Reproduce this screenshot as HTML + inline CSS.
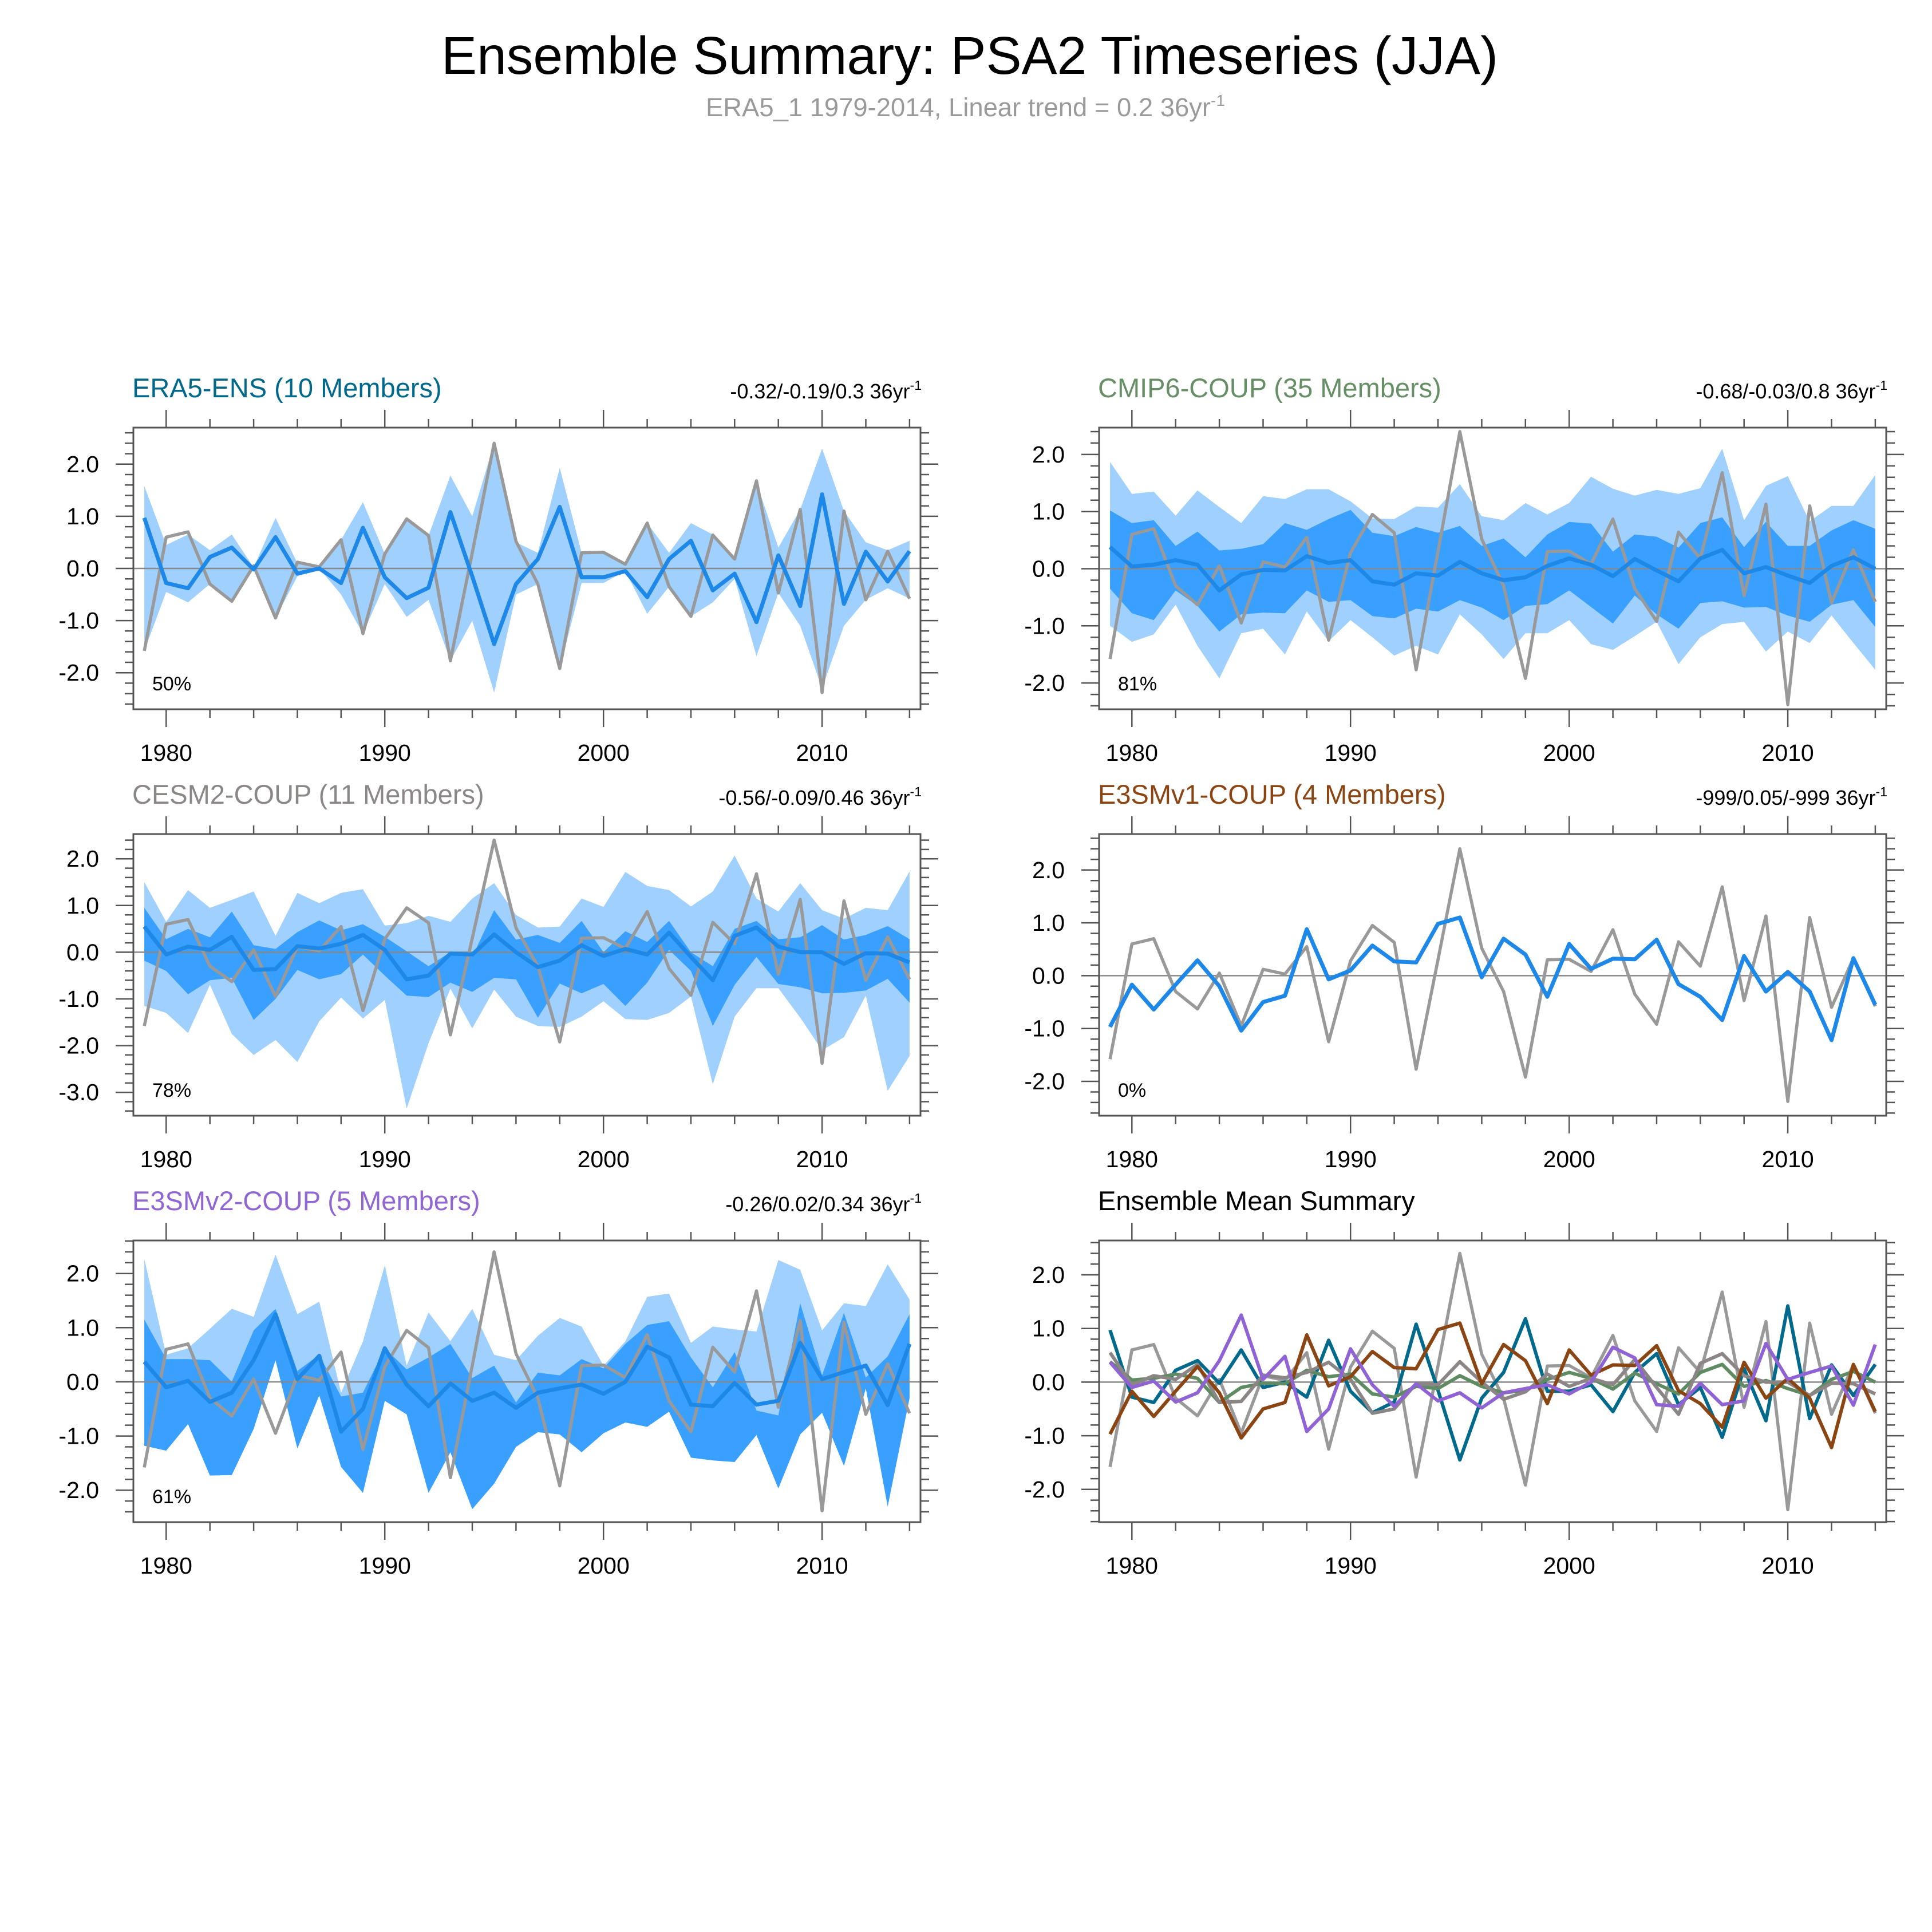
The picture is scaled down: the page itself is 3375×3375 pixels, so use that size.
<!DOCTYPE html>
<html><head><meta charset="utf-8">
<style>
html,body{margin:0;padding:0;background:#fff;}
svg{display:block;font-family:"Liberation Sans",Arial,sans-serif;}
</style></head>
<body>
<svg id="fig" width="3375" height="3375" viewBox="0 0 3375 3375">
<rect x="0" y="0" width="3375" height="3375" fill="#fff"/>
<text x="1694" y="129" font-size="93" text-anchor="middle" fill="#000" textLength="1846" lengthAdjust="spacingAndGlyphs">Ensemble Summary: PSA2 Timeseries (JJA)</text>
<text x="1233" y="203" font-size="45" fill="#9a9a9a"><tspan textLength="882" lengthAdjust="spacingAndGlyphs">ERA5_1 1979-2014, Linear trend = 0.2 36yr</tspan><tspan font-size="28" dy="-18">-1</tspan></text>
<g id="panels"></g>
</svg>
<script>
const years=[1979,1980,1981,1982,1983,1984,1985,1986,1987,1988,1989,1990,1991,1992,1993,1994,1995,1996,1997,1998,1999,2000,2001,2002,2003,2004,2005,2006,2007,2008,2009,2010,2011,2012,2013,2014];
const obs=[-1.58,0.60,0.70,-0.30,-0.63,0.05,-0.95,0.12,0.03,0.55,-1.25,0.28,0.95,0.63,-1.77,0.30,2.40,0.52,-0.30,-1.92,0.30,0.31,0.08,0.87,-0.35,-0.92,0.64,0.18,1.68,-0.47,1.13,-2.38,1.10,-0.60,0.33,-0.58];

const era5Mean=[0.97,-0.28,-0.38,0.22,0.40,-0.02,0.60,-0.10,0.00,-0.28,0.78,-0.17,-0.57,-0.37,1.08,-0.15,-1.45,-0.30,0.18,1.18,-0.17,-0.17,-0.05,-0.55,0.18,0.53,-0.42,-0.10,-1.03,0.25,-0.72,1.42,-0.68,0.32,-0.25,0.33];
const era5Hi=[1.58,0.45,0.65,0.35,0.65,0.02,0.97,0.10,0.03,0.55,1.27,0.28,0.95,0.63,1.78,1.00,2.40,0.50,0.30,1.93,0.30,0.31,0.08,0.87,0.30,0.87,0.65,0.18,1.65,0.40,1.13,2.30,1.10,0.50,0.35,0.53];
const era5Lo=[-1.58,-0.45,-0.65,-0.30,-0.63,-0.02,-0.95,-0.15,0.00,-0.50,-1.25,-0.30,-0.93,-0.60,-1.77,-1.00,-2.38,-0.50,-0.30,-1.92,-0.28,-0.28,-0.05,-0.87,-0.35,-0.92,-0.65,-0.20,-1.68,-0.47,-1.10,-2.30,-1.10,-0.60,-0.38,-0.58];

const cmipMean=[0.38,0.04,0.07,0.15,0.07,-0.38,-0.10,-0.02,-0.03,0.22,0.10,0.15,-0.22,-0.28,-0.08,-0.12,0.12,-0.08,-0.20,-0.15,0.05,0.18,0.07,-0.13,0.17,-0.03,-0.22,0.18,0.33,-0.08,0.03,-0.12,-0.25,0.05,0.20,0.00];
const cmipHi=[1.87,1.31,1.35,0.93,1.37,1.08,0.80,1.27,1.22,1.39,1.39,1.18,0.88,0.87,1.09,1.07,1.48,0.92,0.85,1.15,0.95,1.15,1.61,1.40,1.28,1.38,1.31,1.41,2.10,0.85,1.45,1.62,0.83,1.10,1.10,1.64];
const cmipDHi=[1.02,0.80,0.85,0.40,0.65,0.32,0.35,0.43,0.80,0.68,0.87,1.03,0.63,0.57,0.73,0.63,0.75,0.40,0.53,0.20,0.60,0.82,0.79,0.30,0.60,0.56,0.37,0.80,0.90,0.38,0.82,0.40,0.40,0.67,0.85,0.70];
const cmipDLo=[-0.35,-0.78,-0.90,-0.38,-0.65,-1.10,-0.80,-0.77,-0.78,-0.38,-0.58,-0.55,-0.83,-0.87,-0.70,-0.75,-0.55,-0.68,-0.90,-0.65,-0.62,-0.38,-0.67,-0.96,-0.47,-0.80,-1.05,-0.60,-0.57,-0.68,-0.67,-0.82,-0.93,-0.63,-0.55,-1.02];
const cmipLo=[-1.00,-1.28,-1.15,-0.63,-1.35,-1.92,-1.13,-1.05,-1.50,-0.75,-1.27,-0.90,-1.20,-1.52,-1.35,-1.50,-0.80,-1.15,-1.58,-1.13,-1.13,-0.90,-1.32,-1.42,-1.18,-0.93,-1.67,-1.20,-0.97,-0.93,-1.45,-1.10,-1.30,-0.82,-1.30,-1.77];

const cesmMean=[0.55,-0.05,0.12,0.05,0.33,-0.38,-0.36,0.13,0.08,0.18,0.37,0.05,-0.58,-0.50,-0.03,-0.05,0.38,0.00,-0.32,-0.18,0.15,-0.08,0.07,-0.05,0.42,-0.10,-0.60,0.35,0.53,0.12,0.00,0.00,-0.25,-0.02,-0.03,-0.22];
const cesmHi=[1.50,0.65,1.33,0.95,1.12,1.30,0.35,1.27,1.05,1.27,1.35,0.57,0.62,0.78,0.65,1.15,1.48,0.80,0.53,0.55,1.15,0.97,1.72,1.42,1.33,0.98,1.30,2.07,1.15,0.87,1.48,0.90,0.72,0.95,0.90,1.73];
const cesmDHi=[0.95,0.28,0.50,0.32,0.87,0.15,0.07,0.43,0.68,0.47,0.60,0.33,0.02,-0.30,0.00,-0.10,0.90,0.27,0.37,0.20,0.67,0.00,0.45,0.22,0.67,0.00,-0.30,0.50,0.67,0.28,0.32,0.58,0.27,0.37,0.56,0.28];
const cesmDLo=[-0.18,-0.40,-0.90,-0.60,-0.55,-1.45,-1.00,-0.38,-0.58,-0.47,-0.05,-0.50,-0.93,-0.96,-0.65,-0.85,-0.55,-0.58,-1.40,-0.67,-0.88,-0.68,-1.15,-0.65,0.05,-0.40,-1.58,-0.70,-0.10,-0.68,-0.75,-0.88,-0.87,-0.82,-0.57,-1.08];
const cesmLo=[-1.15,-1.30,-1.73,-0.70,-1.75,-2.20,-1.88,-2.35,-1.48,-0.97,-1.42,-1.02,-3.35,-1.95,-0.78,-1.63,-0.80,-1.38,-1.58,-1.60,-1.38,-1.05,-1.43,-1.45,-1.30,-0.95,-2.83,-1.38,-0.77,-0.77,-1.40,-2.10,-1.82,-0.93,-2.97,-2.22];

const e3v1Mean=[-0.97,-0.17,-0.64,-0.17,0.29,-0.20,-1.04,-0.50,-0.38,0.88,-0.07,0.10,0.57,0.27,0.25,0.98,1.10,-0.03,0.70,0.40,-0.40,0.60,0.13,0.32,0.31,0.68,-0.16,-0.40,-0.84,0.37,-0.30,0.07,-0.30,-1.22,0.33,-0.55];

const e3v2Mean=[0.37,-0.10,0.02,-0.37,-0.20,0.40,1.25,0.05,0.48,-0.92,-0.50,0.62,-0.05,-0.45,-0.03,-0.35,-0.20,-0.48,-0.20,-0.12,-0.05,-0.22,0.00,0.65,0.45,-0.42,-0.45,-0.02,-0.42,-0.35,0.72,0.05,0.18,0.30,-0.43,0.70];
const e3v2Hi=[2.27,0.50,0.62,0.98,1.35,1.20,2.35,1.25,1.48,-0.20,0.75,2.15,0.30,1.28,0.75,1.35,0.50,0.40,0.85,1.18,1.02,0.30,0.75,1.57,1.63,0.72,1.02,0.97,0.93,2.25,2.07,0.95,1.45,1.40,2.17,1.52];
const e3v2DHi=[1.15,0.42,0.42,0.40,0.00,0.95,1.35,0.20,0.50,-0.27,-0.20,0.62,0.23,0.45,0.70,0.07,0.30,-0.38,0.17,0.12,0.42,0.25,0.70,1.05,1.12,0.45,-0.10,0.55,-0.53,-0.62,1.45,0.12,1.27,0.08,0.47,1.25];
const e3v2DLo=[-1.18,-1.27,-0.78,-1.73,-1.72,-0.87,0.40,-1.23,-0.25,-1.57,-2.05,-0.35,-0.60,-2.05,-1.30,-2.35,-1.88,-1.20,-0.93,-0.97,-1.30,-0.95,-0.75,-0.83,-0.55,-1.40,-1.45,-1.48,-0.98,-1.97,-0.97,-0.57,-1.55,-0.12,-2.30,-0.30];
const e3v2Lo=[-1.18,-1.27,-0.78,-1.73,-1.72,-0.87,0.40,-1.23,-0.25,-1.57,-2.05,-0.35,-0.60,-2.05,-1.30,-2.35,-1.88,-1.20,-0.93,-0.97,-1.30,-0.95,-0.75,-0.83,-0.55,-1.40,-1.45,-1.48,-0.98,-1.97,-0.97,-0.57,-1.55,-0.12,-2.30,-0.30];

const xTickYears=[1980,1990,2000,2010];
const xTickLabels=["1980","1990","2000","2010"];
const yTicksStd=[-2,-1,0,1,2];
const yTickLabelsStd=["-2.0","-1.0","0.0","1.0","2.0"];
const yTicksCesm=[-3,-2,-1,0,1,2];
const yTickLabelsCesm=["-3.0","-2.0","-1.0","0.0","1.0","2.0"];

const NS="http://www.w3.org/2000/svg";
const root=document.getElementById('panels');
function mk(tag,attrs,parent){const e=document.createElementNS(NS,tag);for(const k in attrs)e.setAttribute(k,attrs[k]);(parent||root).appendChild(e);return e;}

const LIGHT="#a0d0fd", DARK="#39a0ff", MEAN="#1e88e8", OBS="#999999";

const panels=[
 {key:'era5',title:'ERA5-ENS (10 Members)',tcol:'#00688b',stat:'-0.32/-0.19/0.3 36yr',pct:'50%',left:233,top:747,yMin:-2.70,yMax:2.70,yt:yTicksStd,ytl:yTickLabelsStd,hi:era5Hi,lo:era5Lo,mean:era5Mean},
 {key:'cmip6',title:'CMIP6-COUP (35 Members)',tcol:'#668f66',stat:'-0.68/-0.03/0.8 36yr',pct:'81%',left:1920,top:747,yMin:-2.46,yMax:2.47,yt:yTicksStd,ytl:yTickLabelsStd,hi:cmipHi,lo:cmipLo,dhi:cmipDHi,dlo:cmipDLo,mean:cmipMean},
 {key:'cesm2',title:'CESM2-COUP (11 Members)',tcol:'#8b8786',stat:'-0.56/-0.09/0.46 36yr',pct:'78%',left:233,top:1457,yMin:-3.50,yMax:2.53,yt:yTicksCesm,ytl:yTickLabelsCesm,hi:cesmHi,lo:cesmLo,dhi:cesmDHi,dlo:cesmDLo,mean:cesmMean},
 {key:'e3smv1',title:'E3SMv1-COUP (4 Members)',tcol:'#8b4513',stat:'-999/0.05/-999 36yr',pct:'0%',left:1920,top:1457,yMin:-2.65,yMax:2.68,yt:yTicksStd,ytl:yTickLabelsStd,mean:e3v1Mean},
 {key:'e3smv2',title:'E3SMv2-COUP (5 Members)',tcol:'#8f66d4',stat:'-0.26/0.02/0.34 36yr',pct:'61%',left:233,top:2167,yMin:-2.59,yMax:2.61,yt:yTicksStd,ytl:yTickLabelsStd,hi:e3v2Hi,lo:e3v2Lo,dhi:e3v2DHi,dlo:e3v2DLo,mean:e3v2Mean},
 {key:'summary',title:'Ensemble Mean Summary',tcol:'#000',stat:'',pct:'',left:1920,top:2167,yMin:-2.61,yMax:2.64,yt:yTicksStd,ytl:yTickLabelsStd,summary:true}
];
const W=1375,H=492;

panels.forEach(p=>{
 const g=mk('g',{});
 
 
 const X=yr=>p.left+(yr-1978.5)/36*W;
 const Y=v=>p.top+(p.yMax-v)/(p.yMax-p.yMin)*H;
 const line=(arr)=>arr.map((v,i)=>X(years[i]).toFixed(1)+','+Y(v).toFixed(1)).join(' ');
 const band=(hi,lo)=>{const a=hi.map((v,i)=>X(years[i]).toFixed(1)+','+Y(v).toFixed(1));const b=lo.map((v,i)=>X(years[i]).toFixed(1)+','+Y(v).toFixed(1)).reverse();return a.concat(b).join(' ');};

 if(p.hi){const e=mk('polygon',{points:band(p.hi,p.lo),fill:LIGHT,stroke:'none'},g);
  
  }
 if(p.dhi){const e=mk('polygon',{points:band(p.dhi,p.dlo),fill:DARK,stroke:'none'},g);
  
  }

 const z=mk('line',{x1:p.left,x2:p.left+W,y1:Y(0),y2:Y(0),stroke:'#888',"stroke-width":2.5},g);
 
 

 const o=mk('polyline',{points:line(obs),fill:'none',stroke:OBS,"stroke-width":5.5,"stroke-linejoin":'round'},g);
 
 

 if(p.summary){
  const series=[[era5Mean,'#00698c','era5-ens-mean-line'],[cmipMean,'#5f8b62','cmip6-mean-line'],[cesmMean,'#8b8585','cesm2-mean-line'],[e3v1Mean,'#8b4513','e3smv1-mean-line'],[e3v2Mean,'#8f63d4','e3smv2-mean-line']];
  series.forEach(s=>{const e=mk('polyline',{points:line(s[0]),fill:'none',stroke:s[1],"stroke-width":6,"stroke-linejoin":'round'},g);
   
   });
 } else {
  const m=mk('polyline',{points:line(p.mean),fill:'none',stroke:MEAN,"stroke-width":7,"stroke-linejoin":'round'},g);
  
  
 }

 const bx=mk('rect',{x:p.left,y:p.top,width:W,height:H,fill:'none',stroke:'#555',"stroke-width":3},g);
 
 

 let tp='';
 years.forEach(yr=>{
  if(yr%2!==0) return;
  const x=X(yr);const major=(yr%10===0);const L=major?31:15;
  tp+=`M${x.toFixed(1)},${p.top}V${p.top-L}M${x.toFixed(1)},${p.top+H}V${p.top+H+L}`;
 });
 const nMin=Math.ceil(p.yMin*5-1e-6), nMax=Math.floor(p.yMax*5+1e-6);
 for(let k=nMin;k<=nMax;k++){
  const y=Y(k/5);const L=(k%5===0)?31:15;
  tp+=`M${p.left},${y.toFixed(1)}H${p.left-L}M${p.left+W},${y.toFixed(1)}H${p.left+W+L}`;
 }
 const t=mk('path',{d:tp,stroke:'#555',"stroke-width":2.5,fill:'none'},g);
 
 

 p.yt.forEach((v,i)=>{
  const e=mk('text',{x:p.left-60,y:Y(v)+14,"font-size":41,"text-anchor":'end',fill:'#000'},g);
  e.textContent=p.ytl[i];
  
  
 });
 xTickYears.forEach((yr,i)=>{
  const e=mk('text',{x:X(yr),y:p.top+H+90,"font-size":41,"text-anchor":'middle',fill:'#000'},g);
  e.textContent=xTickLabels[i];
  
  
 });

 const tt=mk('text',{x:p.left-2,y:p.top-53,"font-size":47,fill:p.tcol},g);
 tt.textContent=p.title;
 
 

 if(p.stat){
  const st=mk('text',{x:p.left+W+2,y:p.top-51,"font-size":36,"text-anchor":'end',fill:'#000'},g);
  st.textContent=p.stat;
  const sup=mk('tspan',{"font-size":23,dy:-15},st);
  sup.textContent='-1';
  
  
 }
 if(p.pct){
  const pc=mk('text',{x:p.left+33,y:p.top+H-33,"font-size":34,fill:'#000'},g);
  pc.textContent=p.pct;
  
  
 }
});
</script>
</body></html>
